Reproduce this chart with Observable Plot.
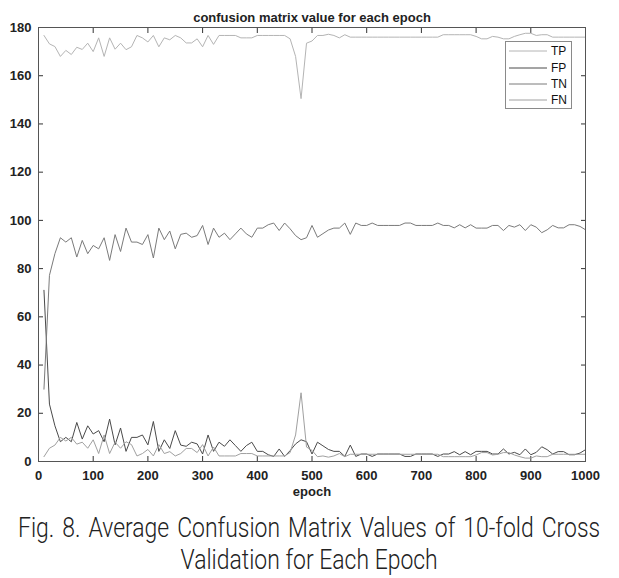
<!DOCTYPE html>
<html><head><meta charset="utf-8">
<script src="https://cdn.jsdelivr.net/npm/d3@7"></script>
<script src="https://cdn.jsdelivr.net/npm/@observablehq/plot@0.6"></script>
<style>
body{margin:0;background:#fff;}
#wrap{position:relative;width:619px;height:505px;}
#legend{position:absolute;left:505px;top:41px;width:67px;height:68px;border:1px solid #8a8a8a;background:#fff;box-sizing:border-box;padding-top:1px;}
.row{height:16.4px;display:flex;align-items:center;font:12px "Liberation Sans",Arial,sans-serif;color:#111;}
.row svg{margin-left:3px;margin-right:4px;}
#caption{margin-top:7px;font-family:Roboto,"Noto Sans",sans-serif;font-weight:300;font-size:27px;line-height:32px;color:#222;}
#caption .l1{width:685px;text-align:justify;text-align-last:justify;transform:scaleX(0.85);transform-origin:0 0;margin-left:18px;white-space:nowrap;}
#caption .l2{width:685px;text-align:center;transform:scaleX(0.85);transform-origin:0 0;margin-left:18px;}
</style></head><body>
<div id="wrap"><div id="chart"></div><div id="legend"></div></div>
<div id="caption"><div class="l1">Fig. 8. Average Confusion Matrix Values of 10-fold Cross</div><div class="l2">Validation for Each Epoch</div></div>
<script>
const epochStart = 10, epochStep = 10;
const TP = [176.7,173.2,172.1,168,170.5,168.8,171.8,170.9,173.5,170,
175.7,168,175.7,171,173.5,170.8,172,176.7,175.7,174,
176.7,172,175.7,174.9,176.7,175.7,173.6,173.6,175.3,172,
176.7,173,176.7,176.7,176.7,176.7,175.7,175.7,175.7,176.7,
176.7,176.7,176.7,176.7,176.7,175.3,168,150.5,173.5,174.4,
176.7,176.7,177.2,176.7,175.7,177,176,176,176,176,
176,176,176,176,176,176,176,176,176,176,
176,176,176,177,177,177,177,177,177,176.3,
175.3,175.3,176.3,176,175.3,175.3,176.3,177,177.6,177.6,
176.7,177,177,176,176,176,176,176,176,176];
const FP = [71,23.8,14.8,8.2,10,8.2,16.2,9.3,14.8,11.4,
12.8,8.2,17.6,6.9,13.9,4.2,10,10,11,6.9,
16.6,4.2,9,5.4,12.8,6.8,6.3,8,7.3,3.1,
11,4.2,8,6.3,9,6.6,4.2,6.6,8,4.2,
4.2,2.8,2.1,5.2,2.1,4.5,7.3,9,8.2,3.1,
8,6.5,5,4.2,4.2,2.1,6.8,2.1,3.1,3.1,
2.1,3.1,3.1,3.1,3.1,3.1,2.1,2.1,3.1,3.1,
3.1,3.1,2.1,3.1,3.1,4.1,2.8,4.1,2.8,4.2,
4.2,4.2,3.1,3.1,5.2,3.1,3.8,2.8,5.2,2.8,
3.8,6.1,4.9,3.1,4.1,4.1,2.8,2.8,3.5,4.9];
const TN = [30,77.2,86.2,92.8,91,92.8,84.8,91.7,86.2,89.6,
88.2,92.8,83.4,94.1,87.1,96.8,91,91,90,94.1,
84.4,96.8,92,95.6,88.2,94.2,94.7,93,93.7,97.9,
90,96.8,93,94.7,92,94.4,96.8,94.4,93,96.8,
96.8,98.2,98.9,95.8,98.9,96.5,93.7,92,92.8,97.9,
93,94.5,96,96.8,96.8,98.9,94.2,98.9,97.9,97.9,
98.9,97.9,97.9,97.9,97.9,97.9,98.9,98.9,97.9,97.9,
97.9,97.9,98.9,97.9,97.9,96.9,98.2,96.9,98.2,96.8,
96.8,96.8,97.9,97.9,95.8,97.9,97.2,98.2,95.8,98.2,
97.2,94.9,96.1,97.9,96.9,96.9,98.2,98.2,97.5,96.1];
const FN = [2,5.5,6.8,10,8.5,10,7.2,8,5.5,9,
3.3,11,3.3,8,5.5,8.2,7,2.3,3.3,5,
2.3,7,3.3,4.1,2.3,3.3,5.4,5.4,3.7,7,
2.3,6,2.3,2.3,2.3,2.3,3.3,3.3,3.3,2.3,
2.3,2.3,2.3,2.3,2.3,3.7,11,28.5,6,4.6,
2,2.3,1.8,2.3,3.3,2,3,3,3,3,
3,3,3,3,3,3,3,3,3,3,
3,3,3,2,2,2,2,2,2,2.7,
3.7,3.7,2.7,3,3.7,3.7,2.7,2,1.4,1.4,
2.3,2,2,3,3,3,3,3,3,3];
const seriesNames = ["TP","FP","TN","FN"];
const seriesColors = ["#b4b4b4","#4a4a4a","#7a7a7a","#a0a0a0"];
const xTicks = [0,100,200,300,400,500,600,700,800,900,1000];
const yTicks = [0,20,40,60,80,100,120,140,160,180];
const titleText = "confusion matrix value for each epoch";
const xLabel = "epoch";

const values = [TP, FP, TN, FN];
const rows = [];
values.forEach((arr, s) => arr.forEach((v, i) => rows.push({epoch: epochStart + i*epochStep, value: v, series: seriesNames[s]})));

const chart = Plot.plot({
  width: 619, height: 505,
  marginTop: 27, marginBottom: 44, marginLeft: 38, marginRight: 34,
  style: {fontFamily: "Liberation Sans, Arial, sans-serif", fontSize: "13px", color: "#222", background: "#fff"},
  x: {domain: [0, 1000]},
  y: {domain: [0, 180]},
  color: {domain: seriesNames, range: seriesColors},
  marks: [
    Plot.axisX({ticks: xTicks, tickSize: -5, tickPadding: 14, tickFormat: d3.format("d"), label: null, fontWeight: "bold", stroke: "#333"}),
    Plot.axisX({anchor: "top", ticks: xTicks, tickSize: -5, tickFormat: () => "", label: null, stroke: "#333"}),
    Plot.axisY({ticks: yTicks, tickSize: -5, tickPadding: 12, label: null, fontWeight: "bold", stroke: "#333"}),
    Plot.axisY({anchor: "right", ticks: yTicks, tickSize: -5, tickFormat: () => "", label: null, stroke: "#333"}),
    Plot.lineY(rows, {x: "epoch", y: "value", z: "series", stroke: "series", strokeWidth: 1}),
    Plot.frame({stroke: "#555"}),
    Plot.text([titleText], {frameAnchor: "top", dy: -15, text: d => d, fontWeight: "bold", fontSize: 13}),
    Plot.text([xLabel], {frameAnchor: "bottom", dy: 34, text: d => d, fontWeight: "bold", fontSize: 13})
  ]
});
document.getElementById("chart").appendChild(chart);

const legend = document.getElementById("legend");
seriesNames.forEach((n, i) => {
  const r = document.createElement("div");
  r.className = "row";
  r.innerHTML = `<svg width="38" height="4"><line x1="0" x2="38" y1="2" y2="2" stroke="${seriesColors[i]}" stroke-width="1"/></svg><span>${n}</span>`;
  legend.appendChild(r);
});
</script>
</body></html>
